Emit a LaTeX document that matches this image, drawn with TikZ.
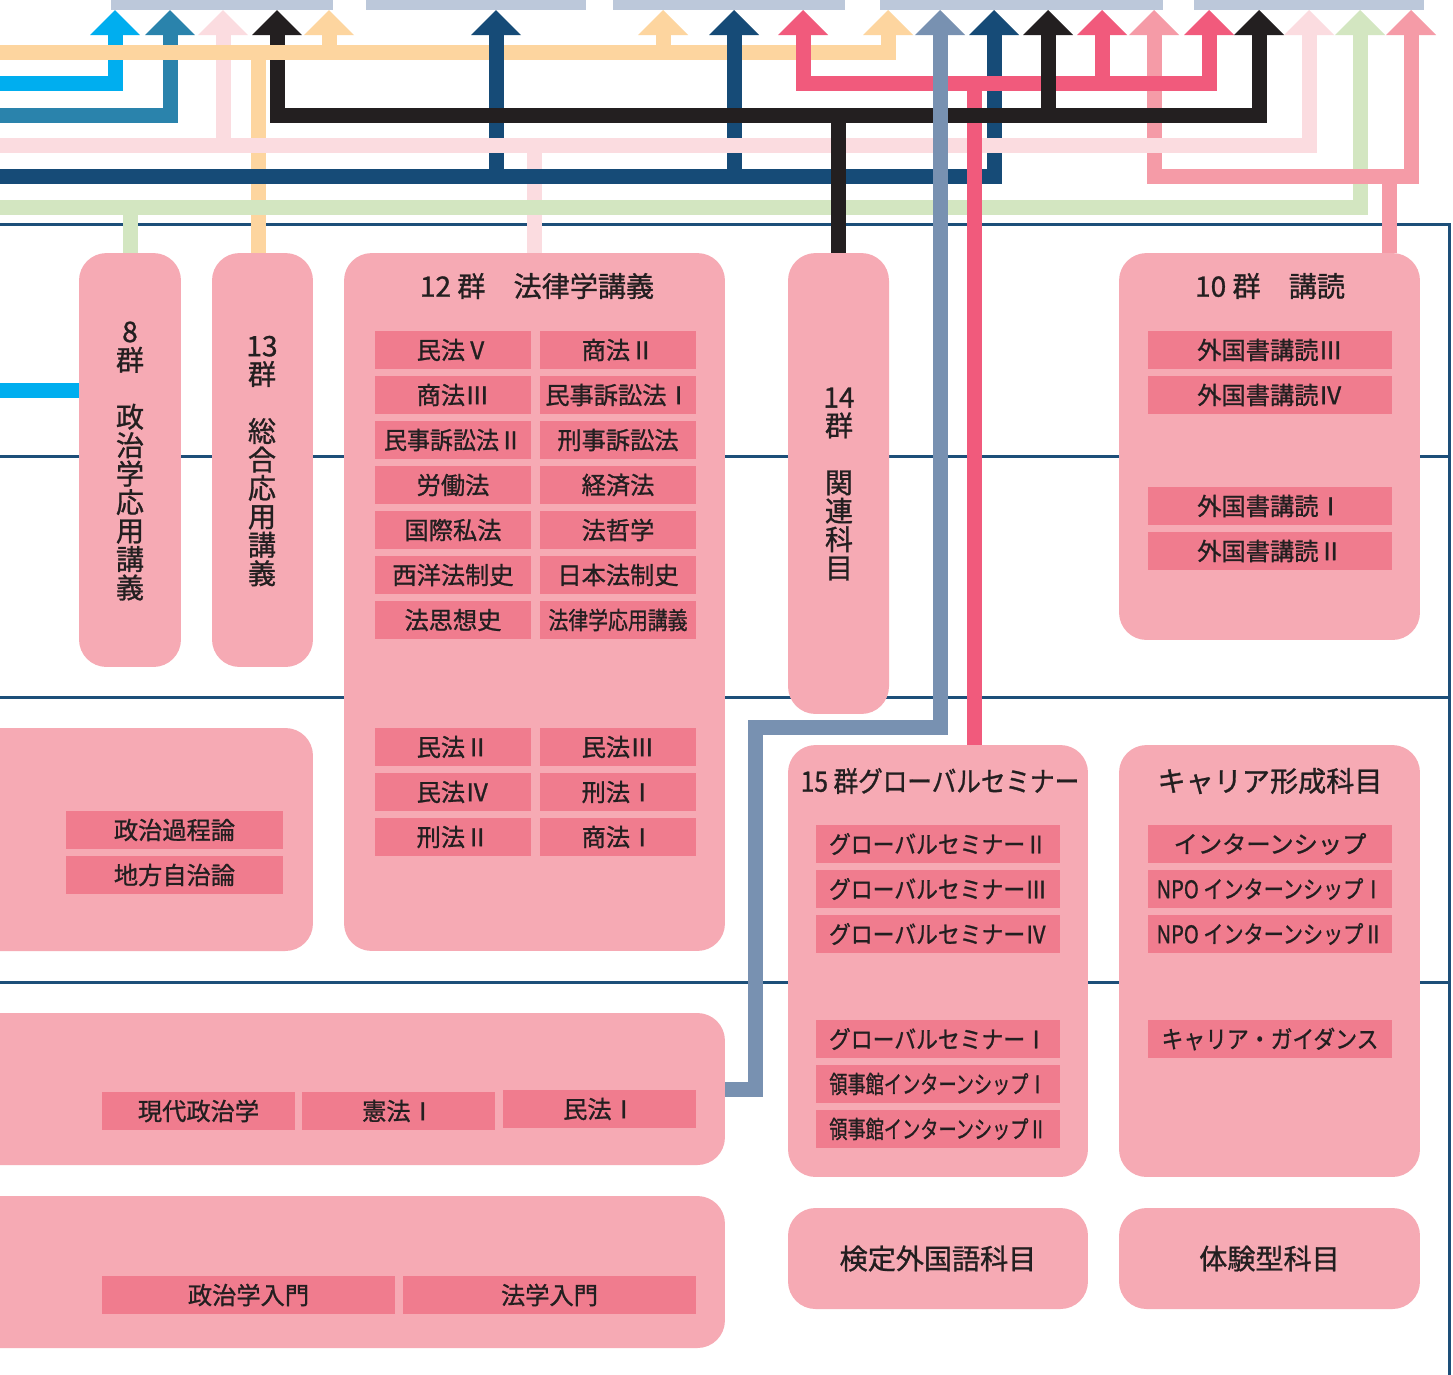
\documentclass[tikz,border=0pt]{standalone}
\usepackage{fontspec}
\setmainfont{Noto Sans CJK JP}[UprightFeatures={FakeBold=1}]
\usepackage{graphicx}
\usetikzlibrary{arrows.meta}
\usepackage{xcolor}
\definecolor{boxpink}{HTML}{F6AAB4}
\definecolor{itempink}{HTML}{F07C8E}
\definecolor{textdark}{HTML}{231F20}
\definecolor{barblue}{HTML}{BCC8DA}
\definecolor{rulenavy}{HTML}{1D4F79}
\definecolor{trkcyan}{HTML}{00AEEF}
\definecolor{trksteel}{HTML}{2A83AC}
\definecolor{trklpink}{HTML}{FBDCE0}
\definecolor{trkblack}{HTML}{231F20}
\definecolor{trkorange}{HTML}{FDD59F}
\definecolor{trknavy}{HTML}{164B77}
\definecolor{trkgreen}{HTML}{D3E6C1}
\definecolor{trkred}{HTML}{F15A7C}
\definecolor{trkpink}{HTML}{F59BA7}
\definecolor{trkgray}{HTML}{7891B1}
\newcommand\subjfont{\fontsize{13.8pt}{16pt}\selectfont}
\newcommand\headfont{\fontsize{16pt}{19pt}\selectfont}
\newcommand\vertfont{\fontsize{16pt}{16.2pt}\selectfont}
\newcommand\squeeze[2]{\scalebox{#1}[1]{#2}}
\tikzset{
  bigtri/.tip={Triangle[length=0.5cm,width=1cm,line width=0pt]},
  group/.style={fill=boxpink,rounded corners=0.55cm,inner sep=0,text=textdark,font=\headfont},
  subject/.style={fill=itempink,text=textdark,inner sep=0,minimum height=0.76cm,font=\subjfont},
  subject narrow/.style={subject,minimum width=3.14cm},
  subject wide/.style={subject,minimum width=4.88cm},
  head/.style={text=textdark,font=\headfont,inner sep=0},
  vertical/.style={text=textdark,font=\vertfont,align=center,inner sep=0},
  bar/.style={fill=barblue,minimum height=0.4cm,inner sep=0},
  sectionline/.style={draw=rulenavy,line width=0.06cm},
  track/.style={line width=0.3cm}, % all tracks are 15px wide
  track arrow/.style={track,-{bigtri}},
  track both/.style={track,{bigtri}-{bigtri}}
}

\begin{document}
\begin{tikzpicture}[x=0.02cm,y=-0.02cm]
    \useasboundingbox (0,0) rectangle (1453,1374);
    \clip (0,0) rectangle (1453,1374);
    \fill[white] (0,0) rectangle (1453,1374);

    % section rules
    \draw[sectionline] (-10,224) -- (1449,224) -- (1449,1390);
    \draw[sectionline] (-10,456) -- (1449,456);
    \draw[sectionline] (-10,697) -- (1449,697);
    \draw[sectionline] (-10,982) -- (1449,982);

    % bars at the top
    \node[bar,minimum width=4.44cm] (bar1) at (222,0) {};
    \node[bar,minimum width=4.4cm] (bar2) at (476,0) {};
    \node[bar,minimum width=4.64cm] (bar3) at (729,0) {};
    \node[bar,minimum width=5.66cm] (bar4) at (1021.5,0) {};
    \node[bar,minimum width=4.6cm] (bar5) at (1309,0) {};

    % groups
    \node[group,minimum width=2.04cm,minimum height=8.28cm] (g8) at (130,460) {};
    \node[group,minimum width=2.02cm,minimum height=8.28cm] (g13) at (262.5,460) {};
    \node[group,minimum width=7.62cm,minimum height=13.96cm] (g12) at (534.5,602) {};
    \node[group,minimum width=2.02cm,minimum height=9.22cm] (g14) at (838.5,483.5) {};
    \node[group,minimum width=6.02cm,minimum height=7.74cm] (g10) at (1269.5,446.5) {};
    \node[group,minimum width=7.06cm,minimum height=4.46cm] (gpol) at (136.5,839.5) {};
    \node[group,minimum width=6cm,minimum height=8.64cm] (g15) at (938,961) {};
    \node[group,minimum width=6.02cm,minimum height=8.64cm] (gcar) at (1269.5,961) {};
    \node[group,minimum width=15.3cm,minimum height=3.04cm] (gb1) at (342.5,1089) {};
    \node[group,minimum width=15.3cm,minimum height=3.04cm] (gb2) at (342.5,1272) {};
    \node[group,minimum width=6cm,minimum height=2.02cm] (gken) at (938,1258.5) {検定外国語科目};
    \node[group,minimum width=6.02cm,minimum height=2.02cm] (gtai) at (1269.5,1258.5) {体験型科目};

    \node[vertical] (v8) at (130,461) {8\\群\\[16.2pt]政\\治\\学\\応\\用\\講\\義};
    \node[vertical] (v13) at (262,461) {13\\群\\[16.2pt]総\\合\\応\\用\\講\\義};
    \node[vertical] (v14) at (839,484) {14\\群\\[16.2pt]関\\連\\科\\目};

    \node[head] (t12) at (537,286) {12 群　法律学講義};
    \node[head] (t10) at (1270,286) {10 群　講読};
    \node[head] (t15) at (940,781) {\squeeze{0.875}{15 群グローバルセミナー}};
    \node[head] (tcar) at (1270,781) {キャリア形成科目};

    % 12群
    \node[subject narrow] (civ5) at (453,350) {民法Ⅴ};
    \node[subject narrow] (com2) at (618,350) {商法Ⅱ};
    \node[subject narrow] (com3) at (453,395) {商法Ⅲ};
    \node[subject narrow] (civp1) at (618,395) {民事訴訟法Ⅰ};
    \node[subject narrow] (civp2) at (453,440) {\squeeze{0.95}{民事訴訟法Ⅱ}};
    \node[subject narrow] (crimp) at (618,440) {刑事訴訟法};
    \node[subject narrow] (labor) at (453,485) {労働法};
    \node[subject narrow] (econ) at (618,485) {経済法};
    \node[subject narrow] (pil) at (453,530) {国際私法};
    \node[subject narrow] (phil) at (618,530) {法哲学};
    \node[subject narrow] (wlh) at (453,575) {西洋法制史};
    \node[subject narrow] (jlh) at (618,575) {日本法制史};
    \node[subject narrow] (lth) at (453,620) {法思想史};
    \node[subject narrow] (lapp) at (618,620) {\squeeze{0.82}{法律学応用講義}};
    \node[subject narrow] (civ2) at (453,747) {民法Ⅱ};
    \node[subject narrow] (civ3) at (618,747) {民法Ⅲ};
    \node[subject narrow] (civ4) at (453,792) {民法Ⅳ};
    \node[subject narrow] (crim1) at (618,792) {刑法Ⅰ};
    \node[subject narrow] (crim2) at (453,837) {刑法Ⅱ};
    \node[subject narrow] (com1) at (618,837) {商法Ⅰ};

    % 10群
    \node[subject wide] (rd3) at (1270,350) {外国書講読Ⅲ};
    \node[subject wide] (rd4) at (1270,395) {外国書講読Ⅳ};
    \node[subject wide] (rd1) at (1270,506) {外国書講読Ⅰ};
    \node[subject wide] (rd2) at (1270,551) {外国書講読Ⅱ};

    \node[subject,minimum width=4.34cm] (polproc) at (174.5,830) {政治過程論};
    \node[subject,minimum width=4.34cm] (local) at (174.5,875) {地方自治論};

    % 15群
    \node[subject wide] (gs2) at (938,844) {\squeeze{0.9}{グローバルセミナーⅡ}};
    \node[subject wide] (gs3) at (938,889) {\squeeze{0.9}{グローバルセミナーⅢ}};
    \node[subject wide] (gs4) at (938,934) {\squeeze{0.9}{グローバルセミナーⅣ}};
    \node[subject wide] (gs1) at (938,1039) {\squeeze{0.9}{グローバルセミナーⅠ}};
    \node[subject wide] (ci1) at (938,1084) {\squeeze{0.75}{領事館インターンシップⅠ}};
    \node[subject wide] (ci2) at (938,1129) {\squeeze{0.75}{領事館インターンシップⅡ}};

    \node[subject wide] (intern) at (1270,844) {インターンシップ};
    \node[subject wide] (npo1) at (1270,889) {\squeeze{0.83}{NPO インターンシップⅠ}};
    \node[subject wide] (npo2) at (1270,934) {\squeeze{0.83}{NPO インターンシップⅡ}};
    \node[subject wide] (guide) at (1270,1039) {\squeeze{0.9}{キャリア・ガイダンス}};

    \node[subject,minimum width=3.86cm] (modpol) at (198.5,1111) {現代政治学};
    \node[subject,minimum width=3.86cm] (const1) at (398.5,1111) {憲法Ⅰ};
    \node[subject,minimum width=3.86cm] (civ1) at (599.5,1109) {民法Ⅰ};
    \node[subject,minimum width=5.86cm] (polintro) at (248.5,1295) {政治学入門};
    \node[subject,minimum width=5.86cm] (lawintro) at (549.5,1295) {法学入門};

    % track ends: left edge and top bars
    \coordinate (inor) at (-10,52);
    \coordinate (incy) at (-10,83);
    \coordinate (insb) at (-10,115);
    \coordinate (inlp) at (-10,145);
    \coordinate (innv) at (-10,176);
    \coordinate (ingr) at (-10,207);
    \coordinate (incyin) at (-10,390);
    \foreach \n/\x in {cy/115,sb/170,lp1/223,bk1/277,or1/329,nv1/496,or2/663,nv2/734,rd1/803,or3/888,
                       gb/940,nv3/994,bk2/1048,rd2/1102,pk1/1154,rd3/1209,bk3/1259,lp2/1309,gr/1360,pk2/1411}
      \coordinate (to\n) at (\x,10);
    \coordinate (orfoot) at ([xshift=-0.09cm]g13.north);
    \coordinate (pkfoot) at ([xshift=2.4cm]g10.north);
    \coordinate (rdfoot) at ([xshift=0.72cm]g15.north);
    \coordinate (gbturn) at (755,727);

    % tracks, lowest first
    \draw[track,trkorange] (orfoot) -- (orfoot |- inor);
    \draw[track,trklpink] (g12.north) -- (g12.north |- inlp);
    \draw[track arrow,trkcyan] (incy) -| (tocy);
    \draw[track,trkcyan] (incyin) -- (incyin -| g8.west);
    \draw[track arrow,trksteel] (insb) -| (tosb);
    \draw[track arrow,trklpink] (tolp1 |- inlp) -- (tolp1);
    \draw[track arrow,trkblack] (tobk1 |- insb) -- (tobk1);
    \draw[track arrow,trkorange] (inor) -| (toor3);
    \draw[track arrow,trkorange] (toor1 |- inor) -- (toor1);
    \draw[track arrow,trkorange] (toor2 |- inor) -- (toor2);
    \draw[track arrow,trkgreen] (ingr) -| (togr);
    \draw[track,trkgreen] (g8.north) -- (g8.north |- ingr);
    \draw[track arrow,trknavy] (innv) -| (tonv3);
    \draw[track arrow,trknavy] (tonv1 |- innv) -- (tonv1);
    \draw[track arrow,trknavy] (tonv2 |- innv) -- (tonv2);
    \draw[track both,trkpink] (topk1) |- (pkfoot |- innv) -| (topk2);
    \draw[track,trkpink] (pkfoot) -- (pkfoot |- innv);
    \draw[track arrow,trklpink] (inlp) -| (tolp2);
    \draw[track both,trkred] (tord1) |- (rdfoot |- incy) -| (tord3);
    \draw[track arrow,trkred] (tord2 |- incy) -- (tord2);
    \draw[track,trkred] (rdfoot) -- (rdfoot |- incy);
    \draw[track arrow,trkblack,line cap=rect] (tobk1 |- insb) -| (tobk3);
    \draw[track arrow,trkblack] (tobk2 |- insb) -- (tobk2);
    \draw[track,trkblack] (g14.north) -- (g14.north |- insb);
    \draw[track arrow,trkgray] (gb1.east) -| (gbturn) -| (togb);
\end{tikzpicture}
\end{document}
